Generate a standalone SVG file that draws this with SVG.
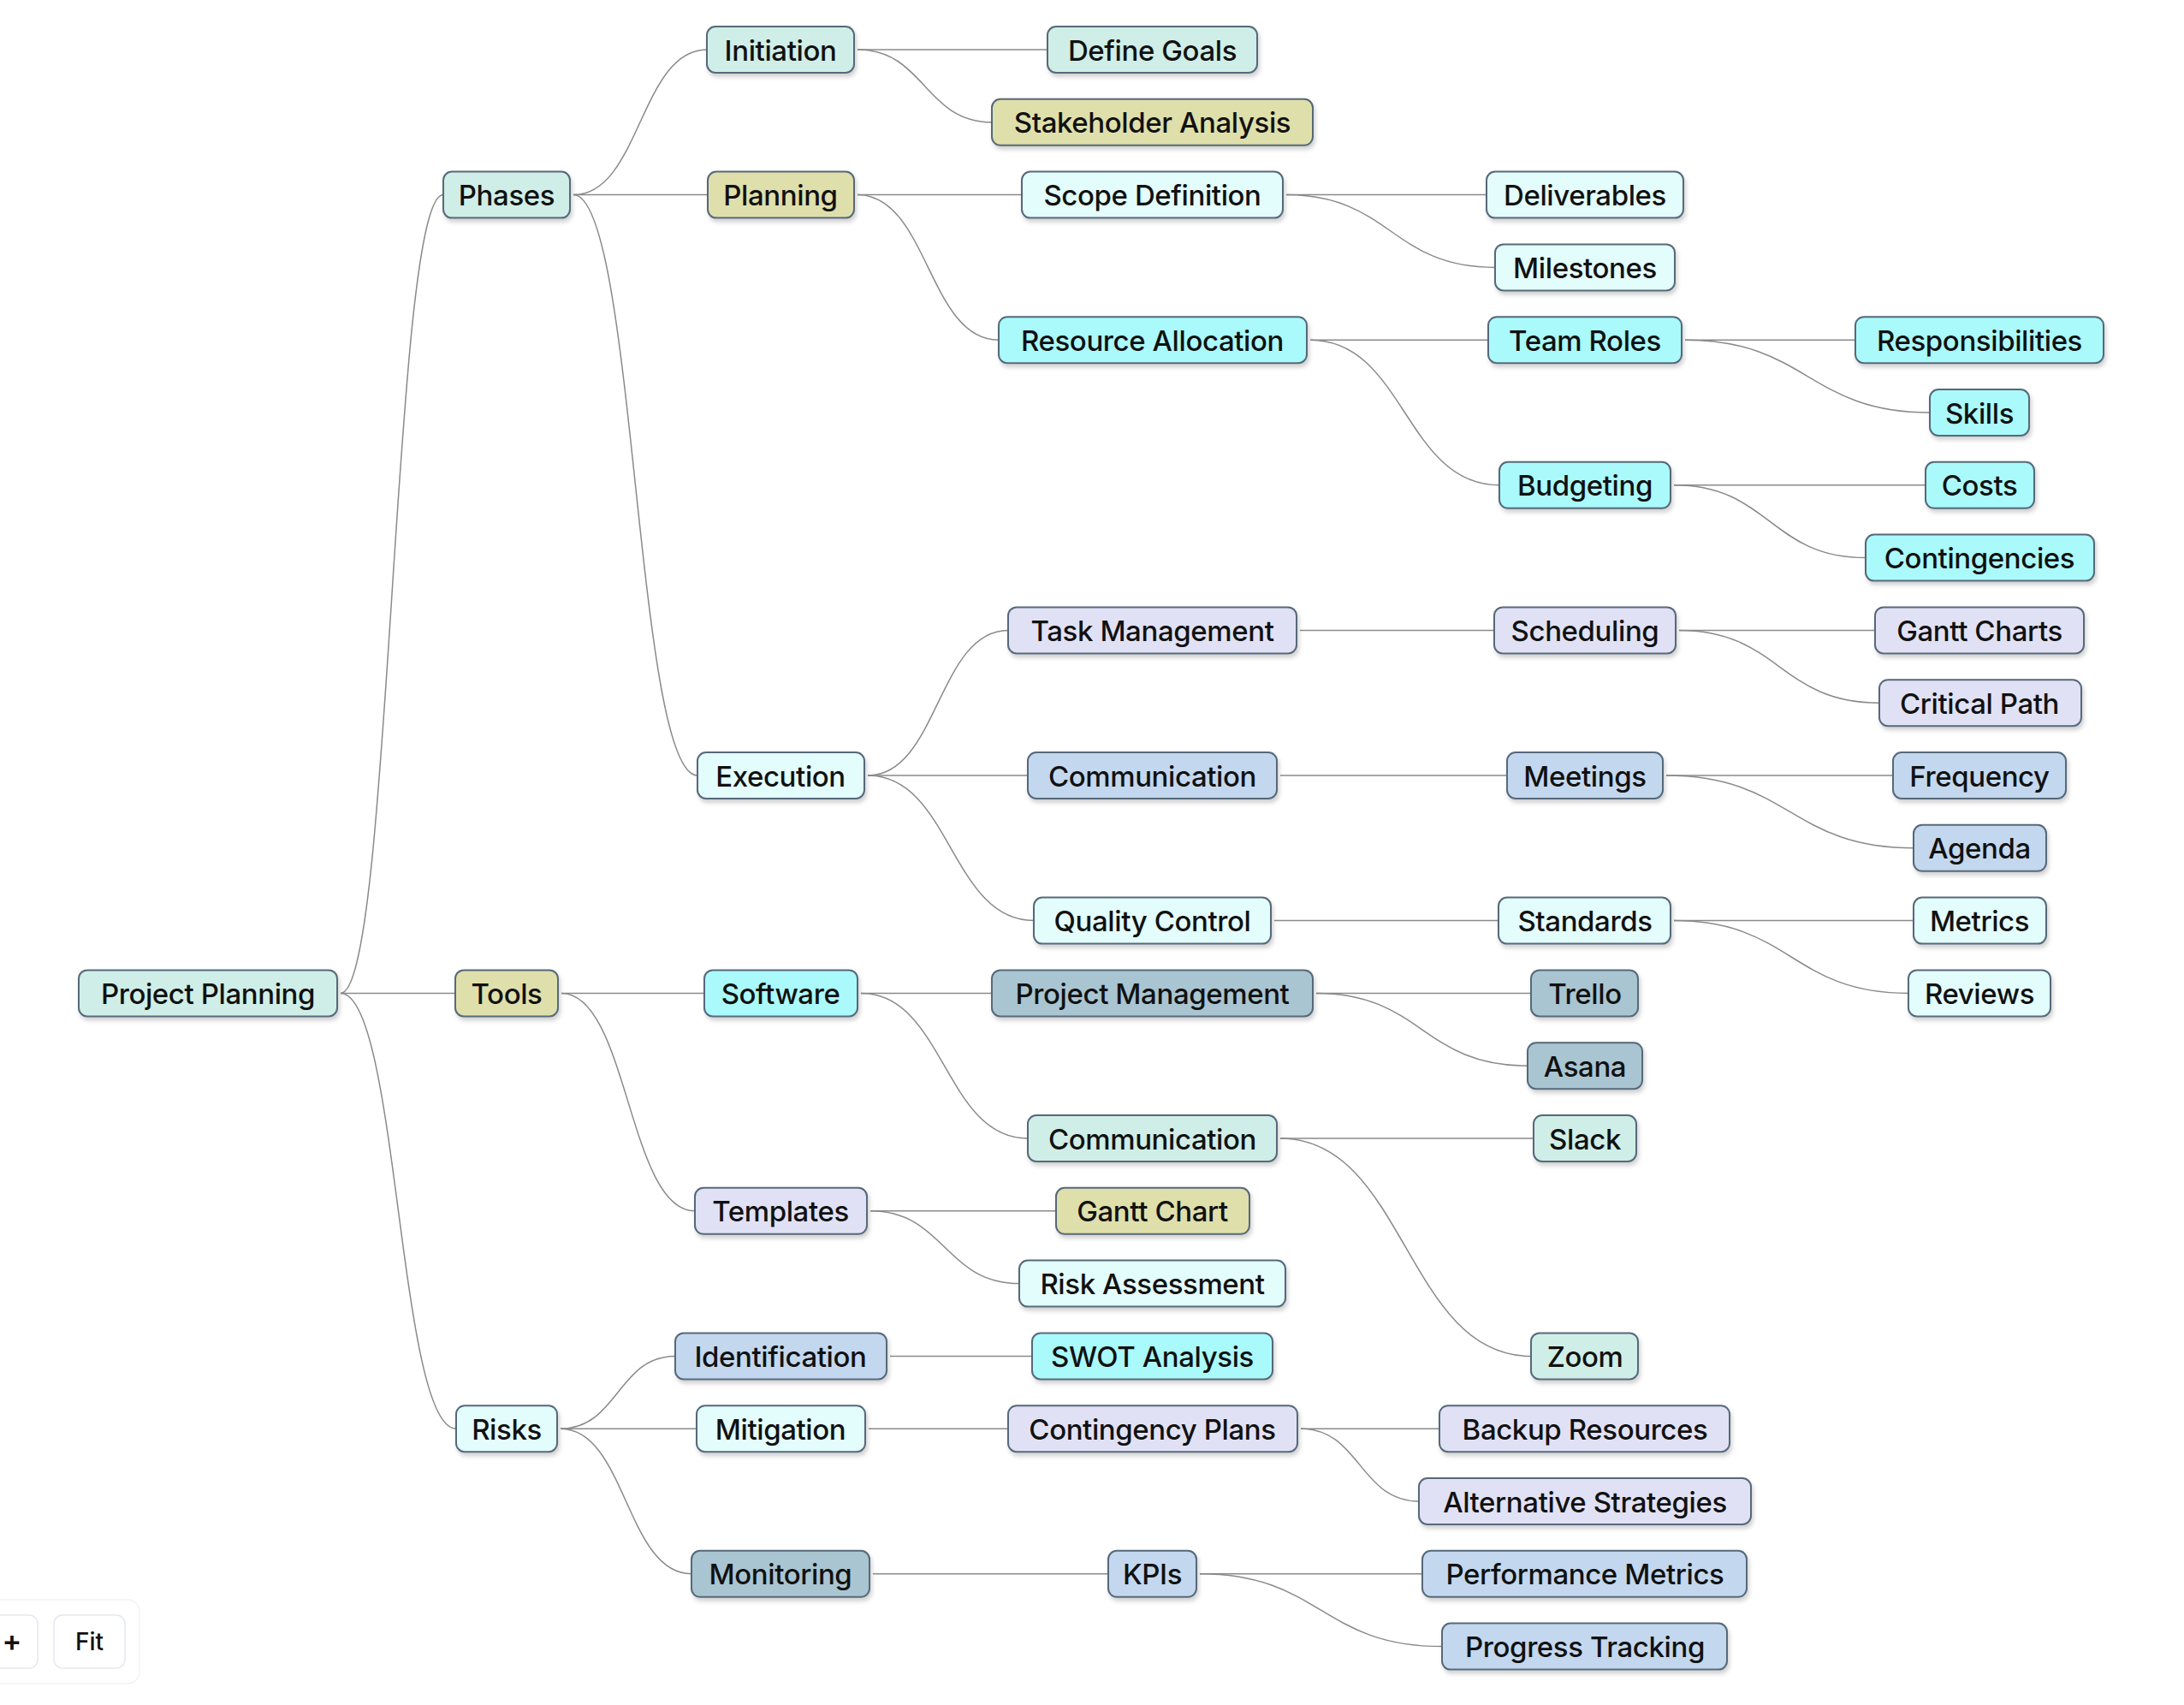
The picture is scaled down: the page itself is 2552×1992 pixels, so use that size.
<svg xmlns="http://www.w3.org/2000/svg" width="2552" height="1992" viewBox="0 0 2552 1992">
<defs>
<filter id="sh" x="-10%" y="-20%" width="120%" height="160%">
<feDropShadow dx="2" dy="4" stdDeviation="2.5" flood-color="#000" flood-opacity="0.18"/>
</filter>
<style>
.box{stroke:#56697a;stroke-width:2;filter:url(#sh)}
.m{fill:#cfeee7}.k{fill:#dfdfab}.p{fill:#e3fcfc}.c{fill:#aaf9fb}.l{fill:#e1e1f5}.b{fill:#c3d8ef}.s{fill:#a9c5d1}
.t{font-family:Inter,"Liberation Sans",sans-serif;font-size:33px;font-weight:500;letter-spacing:-0.4px;fill:#111;text-anchor:middle}
.e{fill:none;stroke:#8a8a8a;stroke-width:1.5}
.btn{fill:#fff;stroke:#e3e8ee;stroke-width:1.5}
.bt{font-family:Inter,"Liberation Sans",sans-serif;font-size:28px;font-weight:500;fill:#111;text-anchor:middle}
</style>
</defs>
<rect width="2552" height="1992" fill="#fff"/>
<g id="connectors">
<path class="e" d="M398,1160.4 C458,1160.4 458,227.6 518,227.6"/>
<path class="e" d="M398,1160.4 L532,1160.4"/>
<path class="e" d="M398,1160.4 C465.5,1160.4 465.5,1669.2 533,1669.2"/>
<path class="e" d="M670,227.6 C748,227.6 748,58 826,58"/>
<path class="e" d="M670,227.6 L827,227.6"/>
<path class="e" d="M670,227.6 C742.5,227.6 742.5,906 815,906"/>
<path class="e" d="M1002,58 L1224,58"/>
<path class="e" d="M1002,58 C1080.5,58 1080.5,142.8 1159,142.8"/>
<path class="e" d="M1002,227.6 L1194,227.6"/>
<path class="e" d="M1002,227.6 C1084.5,227.6 1084.5,397.2 1167,397.2"/>
<path class="e" d="M1503,227.6 L1737,227.6"/>
<path class="e" d="M1503,227.6 C1625,227.6 1625,312.4 1747,312.4"/>
<path class="e" d="M1531,397.2 L1739,397.2"/>
<path class="e" d="M1531,397.2 C1641.5,397.2 1641.5,566.8 1752,566.8"/>
<path class="e" d="M1969,397.2 L2168,397.2"/>
<path class="e" d="M1969,397.2 C2112,397.2 2112,482 2255,482"/>
<path class="e" d="M1956,566.8 L2250,566.8"/>
<path class="e" d="M1956,566.8 C2068,566.8 2068,651.6 2180,651.6"/>
<path class="e" d="M1014,906 C1096,906 1096,736.4 1178,736.4"/>
<path class="e" d="M1014,906 L1201,906"/>
<path class="e" d="M1014,906 C1111,906 1111,1075.6 1208,1075.6"/>
<path class="e" d="M1519,736.4 L1746,736.4"/>
<path class="e" d="M1962,736.4 L2191,736.4"/>
<path class="e" d="M1962,736.4 C2079,736.4 2079,821.2 2196,821.2"/>
<path class="e" d="M1496,906 L1761,906"/>
<path class="e" d="M1947,906 L2212,906"/>
<path class="e" d="M1947,906 C2091.5,906 2091.5,990.8 2236,990.8"/>
<path class="e" d="M1489,1075.6 L1751,1075.6"/>
<path class="e" d="M1956,1075.6 L2236,1075.6"/>
<path class="e" d="M1956,1075.6 C2093,1075.6 2093,1160.4 2230,1160.4"/>
<path class="e" d="M656,1160.4 L823,1160.4"/>
<path class="e" d="M656,1160.4 C734,1160.4 734,1414.8 812,1414.8"/>
<path class="e" d="M1006,1160.4 L1159,1160.4"/>
<path class="e" d="M1006,1160.4 C1103.5,1160.4 1103.5,1330 1201,1330"/>
<path class="e" d="M1538,1160.4 L1789,1160.4"/>
<path class="e" d="M1538,1160.4 C1661.5,1160.4 1661.5,1245.2 1785,1245.2"/>
<path class="e" d="M1496,1330 L1792,1330"/>
<path class="e" d="M1496,1330 C1642.5,1330 1642.5,1584.4 1789,1584.4"/>
<path class="e" d="M1017,1414.8 L1234,1414.8"/>
<path class="e" d="M1017,1414.8 C1104,1414.8 1104,1499.6 1191,1499.6"/>
<path class="e" d="M655,1669.2 C722,1669.2 722,1584.4 789,1584.4"/>
<path class="e" d="M655,1669.2 L814,1669.2"/>
<path class="e" d="M655,1669.2 C731.5,1669.2 731.5,1838.8 808,1838.8"/>
<path class="e" d="M1040,1584.4 L1206,1584.4"/>
<path class="e" d="M1015,1669.2 L1178,1669.2"/>
<path class="e" d="M1520,1669.2 L1682,1669.2"/>
<path class="e" d="M1520,1669.2 C1589,1669.2 1589,1754 1658,1754"/>
<path class="e" d="M1020,1838.8 L1295,1838.8"/>
<path class="e" d="M1402,1838.8 L1662,1838.8"/>
<path class="e" d="M1402,1838.8 C1543.5,1838.8 1543.5,1923.6 1685,1923.6"/>
</g>
<g id="n-project-planning"><rect class="box m" x="92" y="1133.4" width="302" height="54" rx="10"/><text class="t" x="243" y="1173">Project Planning</text></g>
<g id="n-phases"><rect class="box m" x="518" y="200.6" width="148" height="54" rx="10"/><text class="t" x="592" y="240.2">Phases</text></g>
<g id="n-tools"><rect class="box k" x="532" y="1133.4" width="120" height="54" rx="10"/><text class="t" x="592" y="1173">Tools</text></g>
<g id="n-risks"><rect class="box p" x="533" y="1642.2" width="118" height="54" rx="10"/><text class="t" x="592" y="1681.8">Risks</text></g>
<g id="n-initiation"><rect class="box m" x="826" y="31" width="172" height="54" rx="10"/><text class="t" x="912" y="70.6">Initiation</text></g>
<g id="n-planning"><rect class="box k" x="827" y="200.6" width="171" height="54" rx="10"/><text class="t" x="912" y="240.2">Planning</text></g>
<g id="n-execution"><rect class="box p" x="815" y="879" width="195" height="54" rx="10"/><text class="t" x="912" y="918.6">Execution</text></g>
<g id="n-software"><rect class="box c" x="823" y="1133.4" width="179" height="54" rx="10"/><text class="t" x="912" y="1173">Software</text></g>
<g id="n-templates"><rect class="box l" x="812" y="1387.8" width="201" height="54" rx="10"/><text class="t" x="912" y="1427.4">Templates</text></g>
<g id="n-identification"><rect class="box b" x="789" y="1557.4" width="247" height="54" rx="10"/><text class="t" x="912" y="1597">Identification</text></g>
<g id="n-mitigation"><rect class="box p" x="814" y="1642.2" width="197" height="54" rx="10"/><text class="t" x="912" y="1681.8">Mitigation</text></g>
<g id="n-monitoring"><rect class="box s" x="808" y="1811.8" width="208" height="54" rx="10"/><text class="t" x="912" y="1851.4">Monitoring</text></g>
<g id="n-define-goals"><rect class="box m" x="1224" y="31" width="245" height="54" rx="10"/><text class="t" x="1346.5" y="70.6">Define Goals</text></g>
<g id="n-stakeholder-analysis"><rect class="box k" x="1159" y="115.8" width="375" height="54" rx="10"/><text class="t" x="1346.5" y="155.4">Stakeholder Analysis</text></g>
<g id="n-scope-definition"><rect class="box p" x="1194" y="200.6" width="305" height="54" rx="10"/><text class="t" x="1346.5" y="240.2">Scope Definition</text></g>
<g id="n-resource-allocation"><rect class="box c" x="1167" y="370.2" width="360" height="54" rx="10"/><text class="t" x="1346.5" y="409.8">Resource Allocation</text></g>
<g id="n-task-management"><rect class="box l" x="1178" y="709.4" width="337" height="54" rx="10"/><text class="t" x="1346.5" y="749">Task Management</text></g>
<g id="n-communication"><rect class="box b" x="1201" y="879" width="291" height="54" rx="10"/><text class="t" x="1346.5" y="918.6">Communication</text></g>
<g id="n-quality-control"><rect class="box p" x="1208" y="1048.6" width="277" height="54" rx="10"/><text class="t" x="1346.5" y="1088.2">Quality Control</text></g>
<g id="n-project-management"><rect class="box s" x="1159" y="1133.4" width="375" height="54" rx="10"/><text class="t" x="1346.5" y="1173">Project Management</text></g>
<g id="n-communication-2"><rect class="box m" x="1201" y="1303" width="291" height="54" rx="10"/><text class="t" x="1346.5" y="1342.6">Communication</text></g>
<g id="n-gantt-chart"><rect class="box k" x="1234" y="1387.8" width="226" height="54" rx="10"/><text class="t" x="1346.5" y="1427.4">Gantt Chart</text></g>
<g id="n-risk-assessment"><rect class="box p" x="1191" y="1472.6" width="311" height="54" rx="10"/><text class="t" x="1346.5" y="1512.2">Risk Assessment</text></g>
<g id="n-swot-analysis"><rect class="box c" x="1206" y="1557.4" width="281" height="54" rx="10"/><text class="t" x="1346.5" y="1597">SWOT Analysis</text></g>
<g id="n-contingency-plans"><rect class="box l" x="1178" y="1642.2" width="338" height="54" rx="10"/><text class="t" x="1346.5" y="1681.8">Contingency Plans</text></g>
<g id="n-kpis"><rect class="box b" x="1295" y="1811.8" width="103" height="54" rx="10"/><text class="t" x="1346.5" y="1851.4">KPIs</text></g>
<g id="n-deliverables"><rect class="box p" x="1737" y="200.6" width="230" height="54" rx="10"/><text class="t" x="1852" y="240.2">Deliverables</text></g>
<g id="n-milestones"><rect class="box p" x="1747" y="285.4" width="210" height="54" rx="10"/><text class="t" x="1852" y="325">Milestones</text></g>
<g id="n-team-roles"><rect class="box c" x="1739" y="370.2" width="226" height="54" rx="10"/><text class="t" x="1852" y="409.8">Team Roles</text></g>
<g id="n-budgeting"><rect class="box c" x="1752" y="539.8" width="200" height="54" rx="10"/><text class="t" x="1852" y="579.4">Budgeting</text></g>
<g id="n-scheduling"><rect class="box l" x="1746" y="709.4" width="212" height="54" rx="10"/><text class="t" x="1852" y="749">Scheduling</text></g>
<g id="n-meetings"><rect class="box b" x="1761" y="879" width="182" height="54" rx="10"/><text class="t" x="1852" y="918.6">Meetings</text></g>
<g id="n-standards"><rect class="box p" x="1751" y="1048.6" width="201" height="54" rx="10"/><text class="t" x="1852" y="1088.2">Standards</text></g>
<g id="n-trello"><rect class="box s" x="1789" y="1133.4" width="125" height="54" rx="10"/><text class="t" x="1852" y="1173">Trello</text></g>
<g id="n-asana"><rect class="box s" x="1785" y="1218.2" width="134" height="54" rx="10"/><text class="t" x="1852" y="1257.8">Asana</text></g>
<g id="n-slack"><rect class="box m" x="1792" y="1303" width="120" height="54" rx="10"/><text class="t" x="1852" y="1342.6">Slack</text></g>
<g id="n-zoom"><rect class="box m" x="1789" y="1557.4" width="125" height="54" rx="10"/><text class="t" x="1852" y="1597">Zoom</text></g>
<g id="n-backup-resources"><rect class="box l" x="1682" y="1642.2" width="339" height="54" rx="10"/><text class="t" x="1852" y="1681.8">Backup Resources</text></g>
<g id="n-alternative-strategies"><rect class="box l" x="1658" y="1727" width="388" height="54" rx="10"/><text class="t" x="1852" y="1766.6">Alternative Strategies</text></g>
<g id="n-performance-metrics"><rect class="box b" x="1662" y="1811.8" width="379" height="54" rx="10"/><text class="t" x="1852" y="1851.4">Performance Metrics</text></g>
<g id="n-progress-tracking"><rect class="box b" x="1685" y="1896.6" width="333" height="54" rx="10"/><text class="t" x="1852" y="1936.2">Progress Tracking</text></g>
<g id="n-responsibilities"><rect class="box c" x="2168" y="370.2" width="290" height="54" rx="10"/><text class="t" x="2313" y="409.8">Responsibilities</text></g>
<g id="n-skills"><rect class="box c" x="2255" y="455" width="116" height="54" rx="10"/><text class="t" x="2313" y="494.6">Skills</text></g>
<g id="n-costs"><rect class="box c" x="2250" y="539.8" width="127" height="54" rx="10"/><text class="t" x="2313" y="579.4">Costs</text></g>
<g id="n-contingencies"><rect class="box c" x="2180" y="624.6" width="267" height="54" rx="10"/><text class="t" x="2313" y="664.2">Contingencies</text></g>
<g id="n-gantt-charts"><rect class="box l" x="2191" y="709.4" width="244" height="54" rx="10"/><text class="t" x="2313" y="749">Gantt Charts</text></g>
<g id="n-critical-path"><rect class="box l" x="2196" y="794.2" width="236" height="54" rx="10"/><text class="t" x="2313" y="833.8">Critical Path</text></g>
<g id="n-frequency"><rect class="box b" x="2212" y="879" width="202" height="54" rx="10"/><text class="t" x="2313" y="918.6">Frequency</text></g>
<g id="n-agenda"><rect class="box b" x="2236" y="963.8" width="155" height="54" rx="10"/><text class="t" x="2313" y="1003.4">Agenda</text></g>
<g id="n-metrics"><rect class="box p" x="2236" y="1048.6" width="155" height="54" rx="10"/><text class="t" x="2313" y="1088.2">Metrics</text></g>
<g id="n-reviews"><rect class="box p" x="2230" y="1133.4" width="166" height="54" rx="10"/><text class="t" x="2313" y="1173">Reviews</text></g>
<g id="controls">
<rect x="-30" y="1869" width="193" height="98" rx="14" fill="#fff" stroke="#f1f3f5" stroke-width="1.5"/>
<rect class="btn" x="-40" y="1887" width="84" height="62" rx="10"/>
<text class="bt" x="14" y="1929" style="font-size:34px;font-weight:600">+</text>
<rect class="btn" x="63" y="1887" width="83" height="62" rx="10"/>
<text class="bt" x="104.5" y="1928">Fit</text>
</g>
</svg>
